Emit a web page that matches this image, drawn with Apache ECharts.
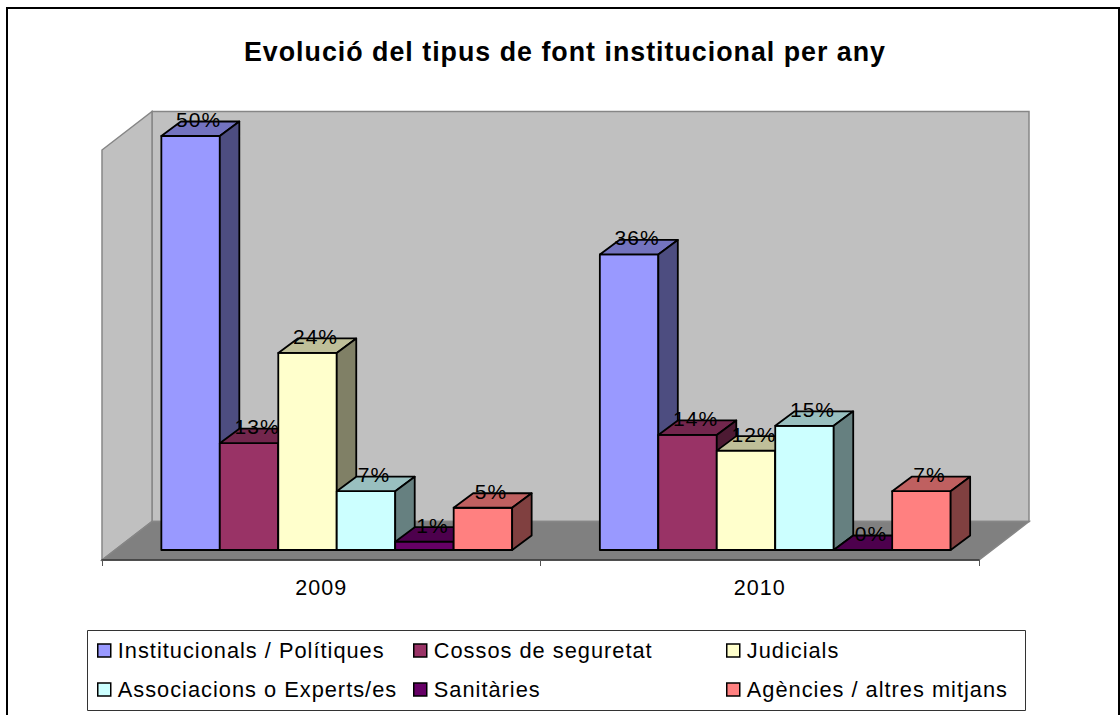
<!DOCTYPE html>
<html>
<head>
<meta charset="utf-8">
<style>
html, body { margin: 0; padding: 0; background: #fff; }
#chart { width: 1120px; height: 715px; }
#chart text { letter-spacing: 1px; }
</style>
<script src="https://cdn.jsdelivr.net/npm/echarts@6/dist/echarts.min.js"></script>
</head>
<body>
<div id="chart"></div>
<script>
const years = ['2009', '2010'];
const institucionals = [50, 35.7];
const cossos = [12.9, 13.9];
const judicials = [23.8, 12];
const associacions = [7.1, 15];
const sanitaries = [1, 0];
const agencies = [5.1, 7.1];

const seriesNames = ['Institucionals / Polítiques', 'Cossos de seguretat', 'Judicials', 'Associacions o Experts/es', 'Sanitàries', 'Agències / altres mitjans'];
const seriesValues = [institucionals, cossos, judicials, associacions, sanitaries, agencies];
const colorList = ['#9999FF', '#993366', '#FFFFCC', '#CCFFFF', '#660066', '#FF8080'];

const FONT = '"Liberation Sans", Arial, sans-serif';
const barDepth = [19.5, 14.5];
const floorDepth = [50, 38.5];

function shade(hex, k) {
    const n = parseInt(hex.slice(1), 16);
    const c = [n >> 16, (n >> 8) & 255, n & 255].map(v => Math.round(v * k));
    return `rgb(${c.join(',')})`;
}

// paredes y suelo, sacados del grid
function renderWalls(params) {
    const g = params.coordSys;
    const x0 = g.x, x1 = g.x + g.width;
    const yb = g.y + g.height + 10;
    const yt = g.y + 14;
    const [dx, dy] = floorDepth;
    const poly = (points, fill) => ({
        type: 'polygon',
        z2: 1,
        shape: { points },
        style: { fill, stroke: '#868686', lineWidth: 1.5 }
    });
    return {
        type: 'group',
        children: [
            poly([[x0 + dx, yt - dy], [x1 + dx, yt - dy], [x1 + dx, yb - dy], [x0 + dx, yb - dy]], '#C0C0C0'),
            poly([[x0, yt], [x0 + dx, yt - dy], [x0 + dx, yb - dy], [x0, yb]], '#C0C0C0'),
            poly([[x0, yb], [x0 + dx, yb - dy], [x1 + dx, yb - dy], [x1, yb]], '#808080')
        ]
    };
}

function renderBar(index) {
    return function (params, api) {
        const cat = api.value(0);
        const val = api.value(1);
        const band = api.size([1, 0])[0];
        const w = band * 2 / 15;
        const [cx, top] = api.coord([cat, val]);
        const base = api.coord([cat, 0])[1];
        const left = cx + 15.5 - 3 * w + index * w;
        const right = left + w;
        const [dx, dy] = barDepth;
        const color = colorList[index];
        const edge = { stroke: '#000', lineWidth: 1.8, lineJoin: 'round' };
        const face = (points, fill) => ({
            type: 'polygon',
            z2: 10 + index,
            shape: { points },
            style: Object.assign({ fill }, edge)
        });
        return {
            type: 'group',
            children: [
                face([[left, base], [right, base], [right, top], [left, top]], color),
                face([[left, top], [right, top], [right + dx, top - dy], [left + dx, top - dy]], shade(color, 0.75)),
                face([[right, base], [right + dx, base - dy], [right + dx, top - dy], [right, top]], shade(color, 0.5)),
                {
                    type: 'text',
                    z2: 100,
                    style: {
                        text: Math.round(val) + '%',
                        x: (left + right) / 2 + 8,
                        y: top - 16.5,
                        align: 'center',
                        verticalAlign: 'middle',
                        font: '21px ' + FONT,
                        fill: '#000'
                    }
                }
            ]
        };
    };
}

const legendBase = {
    orient: 'vertical',
    top: 639.5,
    padding: 0,
    itemWidth: 13,
    itemHeight: 13,
    itemGap: 17,
    icon: 'rect',
    itemStyle: { borderColor: '#000', borderWidth: 1.5 },
    textStyle: { fontFamily: FONT, fontSize: 21.8, color: '#000', padding: [0, 0, 4, 2] }
};

const seriesList = [{
    type: 'custom',
    name: 'walls',
    silent: true,
    data: [0],
    renderItem: renderWalls
}].concat(seriesValues.map((vals, i) => ({
    type: 'custom',
    name: seriesNames[i],
    silent: true,
    itemStyle: { color: colorList[i] },
    encode: { x: 0, y: 1 },
    data: vals.map((v, k) => [k, v]),
    renderItem: renderBar(i)
})));

const myChart = echarts.init(document.getElementById('chart'), null, { renderer: 'svg' });
myChart.setOption({
    animation: false,
    backgroundColor: '#fff',
    title: {
        text: 'Evolució del tipus de font institucional per any',
        left: 560,
        top: 33,
        textAlign: 'center',
        textStyle: { fontFamily: FONT, fontSize: 26.8, fontWeight: 'bold', color: '#000' }
    },
    grid: { left: 102, top: 136, width: 877, height: 414 },
    xAxis: {
        type: 'category',
        data: years,
        offset: 10,
        z: 6,
        axisLine: { onZero: false, lineStyle: { color: '#333', width: 1.5 } },
        axisTick: { show: true, length: 6, lineStyle: { color: '#555' } },
        axisLabel: { fontFamily: FONT, fontSize: 21.5, color: '#000', margin: 17 },
        splitLine: { show: false }
    },
    yAxis: { type: 'value', min: 0, max: 50, show: false },
    legend: [
        Object.assign({}, legendBase, { left: 97, data: [seriesNames[0], seriesNames[3]] }),
        Object.assign({}, legendBase, { left: 413, data: [seriesNames[1], seriesNames[4]] }),
        Object.assign({}, legendBase, { left: 726, data: [seriesNames[2], seriesNames[5]] })
    ],
    graphic: [
        { type: 'rect', z: -1, shape: { x: 7, y: 8, width: 1112, height: 720 }, style: { fill: 'none', stroke: '#000', lineWidth: 2 } },
        { type: 'rect', z: -1, shape: { x: 87.5, y: 630.5, width: 938, height: 80 }, style: { fill: '#fff', stroke: '#333', lineWidth: 1 } }
    ],
    series: seriesList
});
window.addEventListener('resize', () => myChart.resize());
</script>
</body>
</html>
